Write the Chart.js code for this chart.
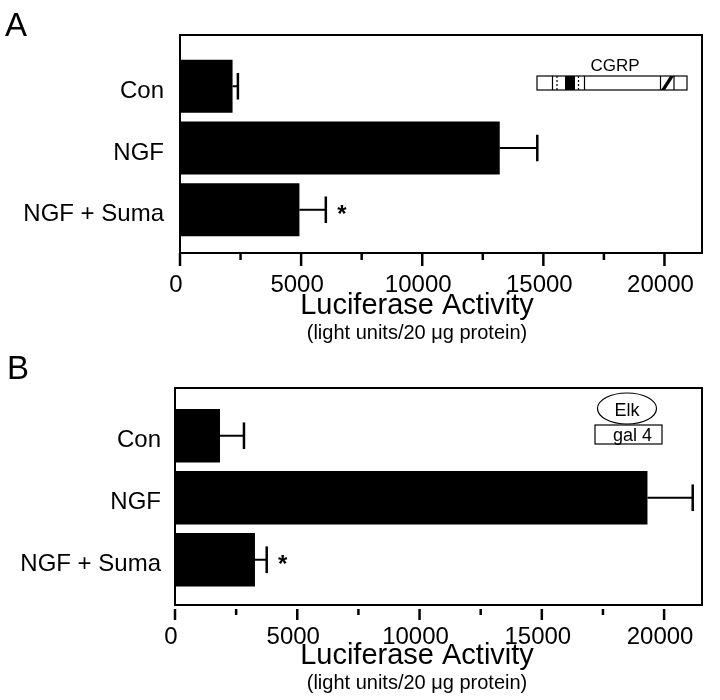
<!DOCTYPE html>
<html>
<head>
<meta charset="utf-8">
<script src="https://cdn.jsdelivr.net/npm/chart.js@4.4.1/dist/chart.umd.min.js"></script>
<style>
  body { margin: 0; background: #fff; }
  .panel { position: absolute; left: 0; width: 720px; height: 350px; }
  .letter { position: absolute; font: 33px "Liberation Sans", Arial, sans-serif; color: #000; line-height: 1; }
</style>
</head>
<body>
<div class="panel" style="top:0"><canvas id="chartCgrp" width="720" height="350"></canvas></div>
<div class="panel" style="top:350px"><canvas id="chartElk" width="720" height="350"></canvas></div>
<div class="letter" style="left:5px; top:8px">A</div>
<div class="letter" style="left:7px; top:351px">B</div>
<script>
// ── Data ──
const CATEGORIES   = ['Con', 'NGF', 'NGF + Suma'];
const CGRP_MEANS   = [2170, 13200, 4930];
const CGRP_ERRORS  = [220, 1550, 1090];
const ELK_MEANS    = [1840, 19320, 3270];
const ELK_ERRORS   = [980, 1850, 480];
const MARKS        = ['', '', '*'];
const X_TICKS      = [0, 2500, 5000, 7500, 10000, 12500, 15000, 17500, 20000];
const X_MAX        = 21550;
const X_LABEL_STEP = 5000;
const X_TITLE      = 'Luciferase Activity';
const X_SUBTITLE   = '(light units/20 \u03bcg protein)';

const FONT = '"Liberation Sans", Arial, Helvetica, sans-serif';

// ── Frame, tick marks, error bars, asterisks, axis titles and inset sketch ──
const panelPlugin = {
    id: 'panel',
    afterDraw(chart, args, o) {
        const ctx = chart.ctx;
        const area = chart.chartArea;
        const xs = chart.scales.x;
        ctx.save();
        ctx.strokeStyle = '#000';
        ctx.fillStyle = '#000';

        // frame
        ctx.lineWidth = 2;
        ctx.strokeRect(area.left, area.top, area.right - area.left, area.bottom - area.top);

        // tick marks (majors longer)
        ctx.lineWidth = 2.5;
        xs.ticks.forEach(t => {
            const px = xs.getPixelForValue(t.value);
            const len = t.value % X_LABEL_STEP === 0 ? o.majorLen : o.minorLen;
            ctx.beginPath();
            ctx.moveTo(px, area.bottom + o.tickGap);
            ctx.lineTo(px, area.bottom + o.tickGap + len);
            ctx.stroke();
        });

        // error bars + asterisks
        const meta = chart.getDatasetMeta(0);
        meta.data.forEach((bar, i) => {
            const x1 = xs.getPixelForValue(o.means[i] + o.errors[i]);
            const half = bar.height * 0.25;
            ctx.lineWidth = 2;
            ctx.beginPath();
            ctx.moveTo(bar.x, bar.y);
            ctx.lineTo(x1, bar.y);
            ctx.stroke();
            ctx.lineWidth = 2.5;
            ctx.beginPath();
            ctx.moveTo(x1, bar.y - half);
            ctx.lineTo(x1, bar.y + half);
            ctx.stroke();
            if (MARKS[i]) {
                ctx.font = `bold 24px ${FONT}`;
                ctx.textAlign = 'center';
                ctx.textBaseline = 'alphabetic';
                ctx.fillText(MARKS[i], x1 + 16, bar.y + 12);
            }
        });

        // axis title
        ctx.textAlign = 'center';
        ctx.textBaseline = 'alphabetic';
        ctx.font = `29px ${FONT}`;
        ctx.fillText(X_TITLE, o.titleX, o.titleY);
        ctx.font = `20px ${FONT}`;
        ctx.fillText(X_SUBTITLE, o.titleX, o.titleY + 25);

        // inset sketch
        ctx.lineWidth = 1.2;
        if (o.inset === 'cgrp') {
            const l = area.right - 165, t = area.top + 41, w = 150, h = 14;
            ctx.font = `17px ${FONT}`;
            ctx.fillText('CGRP', l + w / 2 + 3, t - 5);
            ctx.strokeRect(l, t, w, h);
            [15.5, 47.5, 123.5, 137].forEach(dx => {
                ctx.beginPath(); ctx.moveTo(l + dx, t); ctx.lineTo(l + dx, t + h); ctx.stroke();
            });
            ctx.setLineDash([2, 2]);
            [20, 41.5].forEach(dx => {
                ctx.beginPath(); ctx.moveTo(l + dx, t); ctx.lineTo(l + dx, t + h); ctx.stroke();
            });
            ctx.setLineDash([]);
            ctx.fillRect(l + 28, t, 10, h);
            ctx.beginPath();
            ctx.moveTo(l + 124, t + h); ctx.lineTo(l + 128, t + h);
            ctx.lineTo(l + 137, t); ctx.lineTo(l + 133, t);
            ctx.closePath(); ctx.fill();
        } else if (o.inset === 'elk') {
            const cx = area.right - 75, cy = area.top + 20.5;
            ctx.beginPath();
            ctx.ellipse(cx, cy, 29.5, 15.5, 0, 0, Math.PI * 2);
            ctx.stroke();
            ctx.font = `18px ${FONT}`;
            ctx.fillText('Elk', cx, cy + 7);
            ctx.strokeRect(area.right - 107, area.top + 37, 67, 19);
            ctx.textAlign = 'left';
            ctx.fillText('gal 4', area.right - 89, area.top + 53);
        }
        ctx.restore();
    },
};

function buildChart(canvasId, means, errors, opts) {
    const ctx = document.getElementById(canvasId).getContext('2d');
    return new Chart(ctx, {
        type: 'bar',
        data: {
            datasets: [{
                data: means.map((v, i) => ({ x: v, y: i })),
                backgroundColor: '#000',
                borderWidth: 0,
                categoryPercentage: 1,
                barPercentage: 0.86,
            }],
        },
        options: {
            indexAxis: 'y',
            responsive: false,
            animation: false,
            layout: { padding: { top: opts.top, right: opts.right, left: 0, bottom: 0 } },
            plugins: {
                legend: { display: false },
                tooltip: { enabled: false },
                panel: {
                    means, errors,
                    tickGap: opts.tickGap, majorLen: opts.majorLen, minorLen: opts.minorLen,
                    titleX: opts.titleX, titleY: opts.titleY, inset: opts.inset,
                },
            },
            scales: {
                x: {
                    type: 'linear',
                    min: 0,
                    max: X_MAX,
                    grid: { display: false },
                    border: { display: false },
                    afterBuildTicks: s => { s.ticks = X_TICKS.map(v => ({ value: v })); },
                    ticks: {
                        maxRotation: 0,
                        autoSkip: false,
                        padding: opts.labelPad,
                        labelOffset: -4,
                        color: '#000',
                        font: { family: FONT, size: 24 },
                        callback: v => (v % X_LABEL_STEP === 0 ? String(v) : ''),
                    },
                    afterFit: s => { s.height = opts.xHeight; },
                },
                y: {
                    type: 'linear',
                    reverse: true,
                    offset: false,
                    min: opts.yMin,
                    max: opts.yMax,
                    grid: { display: false, drawTicks: false, offset: false },
                    border: { display: false },
                    afterBuildTicks: s => { s.ticks = CATEGORIES.map((_, i) => ({ value: i })); },
                    ticks: {
                        padding: opts.yPad,
                        labelOffset: 5,
                        color: '#000',
                        font: { family: FONT, size: 24 },
                        callback: v => CATEGORIES[v],
                    },
                    afterFit: s => { s.width = opts.yWidth; },
                },
            },
        },
        plugins: [panelPlugin],
    });
}

buildChart('chartCgrp', CGRP_MEANS, CGRP_ERRORS, {
    top: 35, right: 18, yWidth: 180, xHeight: 97, yMin: -0.83, yMax: 2.70, yPad: 16,
    tickGap: 0, majorLen: 13, minorLen: 7, labelPad: 10,
    titleX: 417, titleY: 314, inset: 'cgrp',
});

buildChart('chartElk', ELK_MEANS, ELK_ERRORS, {
    top: 38, right: 18, yWidth: 175, xHeight: 95, yMin: -0.77, yMax: 2.73, yPad: 14,
    tickGap: 4, majorLen: 11, minorLen: 6, labelPad: 10,
    titleX: 417, titleY: 314, inset: 'elk',
});
</script>
</body>
</html>
